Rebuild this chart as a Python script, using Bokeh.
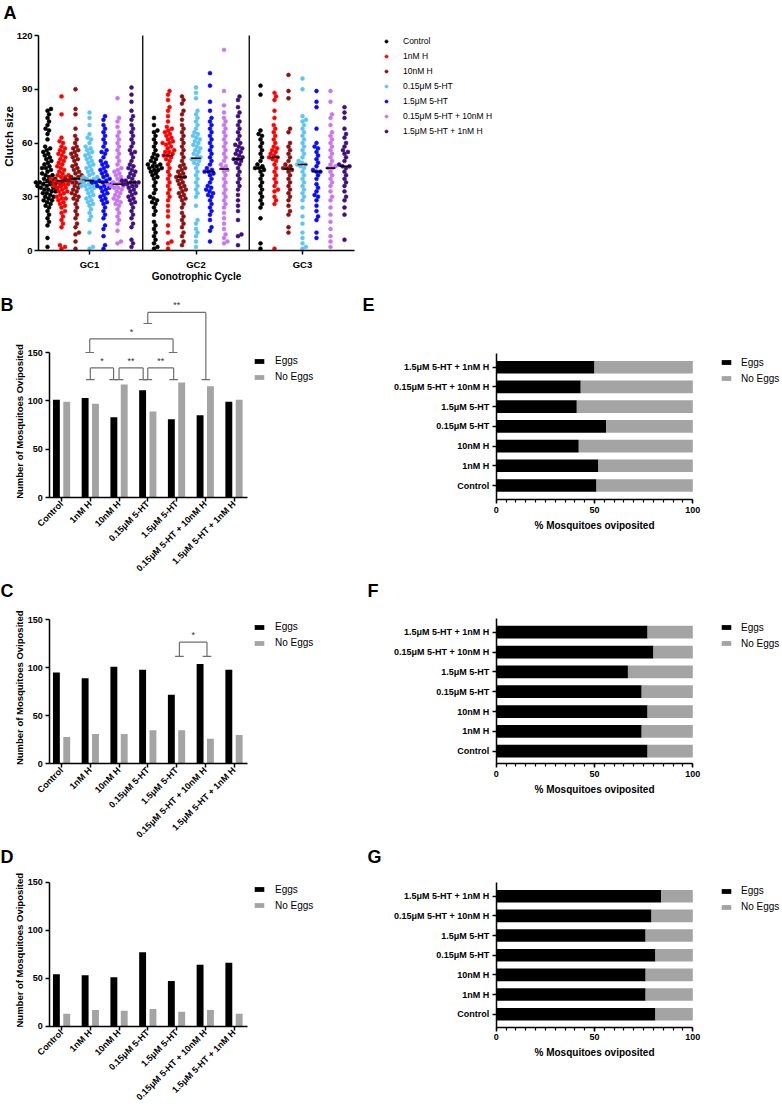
import math
from bokeh.plotting import figure
from bokeh.models import (ColumnDataSource, FixedTicker, Legend, LegendItem, Label,
                          SingleIntervalTicker, Range1d)
from bokeh.layouts import column, row
from bokeh.transform import dodge
from bokeh.embed import file_html
from bokeh.resources import INLINE
from bokeh.core.properties import value

FONT = "Liberation Sans"
GREY = "#a4a4a4"
BRACKET = "#6e6e6e"

# ---------------- data ----------------
TREATMENTS = ["Control", "1nM H", "10nM H", "0.15μM 5-HT", "1.5μM 5-HT",
              "0.15μM 5-HT + 10nM H", "1.5μM 5-HT + 1nM H"]
TREATMENT_COLORS = ["#000000", "#ff0000", "#8b1010", "#5ec4f4", "#0a0aff",
                    "#c876f2", "#3f0f80"]
CYCLES = ["GC1", "GC2", "GC3"]

GC1_CONTROL = [2, 7, 14, 16, 18, 20, 22, 24, 25, 26, 27, 28, 28, 29, 30, 30, 31, 32, 32, 33, 33, 34, 34,
               35, 35, 35, 36, 36, 36, 37, 37, 37, 38, 38, 38, 38, 39, 39, 40, 40, 41, 42, 42, 43, 44, 45,
               46, 46, 47, 48, 49, 50, 51, 52, 53, 54, 55, 56, 57, 58, 62, 65, 67, 68, 70, 72, 74, 76, 78, 79]
GC1_1NM_H = [1, 2, 3, 13, 15, 17, 19, 21, 22, 24, 25, 26, 27, 28, 29, 29, 30, 31, 32, 33, 33, 34, 35, 35,
             36, 36, 37, 37, 38, 38, 39, 39, 39, 40, 40, 41, 41, 42, 42, 43, 44, 45, 46, 47, 48, 49, 50, 51,
             52, 53, 54, 55, 56, 57, 58, 60, 61, 63, 76, 86]
GC1_10NM_H = [1, 5, 9, 10, 13, 15, 18, 20, 22, 24, 26, 28, 29, 30, 31, 32, 33, 34, 35, 36, 37, 38, 38, 39,
              39, 40, 40, 40, 41, 41, 42, 43, 44, 45, 46, 47, 48, 50, 51, 52, 53, 54, 55, 56, 57, 58, 60,
              62, 64, 68, 76, 79, 90]
GC1_015_HT = [1, 2, 10, 17, 19, 21, 23, 25, 26, 27, 28, 29, 30, 31, 32, 33, 34, 35, 35, 36, 36, 37, 37, 38,
              38, 39, 39, 39, 40, 40, 41, 41, 42, 43, 44, 45, 46, 47, 48, 49, 50, 51, 52, 53, 54, 55, 56,
              57, 58, 60, 62, 63, 65, 70, 74, 77]
GC1_15_HT = [1, 3, 8, 12, 14, 18, 20, 22, 24, 26, 27, 28, 29, 30, 31, 32, 33, 34, 35, 35, 36, 36, 37, 37,
             38, 38, 38, 39, 39, 40, 41, 42, 43, 44, 45, 46, 47, 48, 49, 50, 52, 54, 55, 56, 58, 60, 62, 64,
             66, 68, 70, 73, 75]
GC1_015_HT_10NM_H = [4, 5, 11, 15, 17, 19, 21, 23, 25, 26, 27, 28, 29, 30, 31, 32, 33, 34, 35, 35, 36, 36,
                     37, 37, 37, 38, 38, 39, 40, 41, 42, 43, 44, 45, 46, 48, 50, 52, 54, 56, 58, 60, 62, 64,
                     66, 69, 72, 74, 85]
GC1_15_HT_1NM_H = [2, 4, 6, 13, 15, 18, 20, 22, 24, 26, 27, 28, 29, 30, 31, 32, 33, 34, 35, 36, 36, 37, 37,
                   38, 38, 38, 39, 39, 40, 41, 42, 43, 44, 45, 46, 47, 48, 50, 52, 54, 55, 56, 58, 60, 62,
                   64, 66, 68, 70, 73, 75, 78, 83, 87, 91]

GC2_CONTROL = [1, 2, 4, 6, 8, 10, 12, 14, 16, 20, 22, 24, 26, 27, 28, 29, 30, 32, 34, 36, 38, 40, 41, 42,
               43, 44, 45, 45, 46, 46, 47, 47, 48, 48, 49, 50, 51, 52, 53, 54, 56, 58, 60, 62, 64, 66, 67,
               70, 74]
GC2_1NM_H = [1, 4, 5, 10, 14, 19, 22, 25, 28, 30, 32, 34, 36, 38, 40, 42, 44, 46, 48, 50, 51, 52, 53, 53,
             54, 55, 55, 56, 57, 58, 59, 60, 60, 61, 62, 63, 64, 65, 66, 67, 68, 69, 72, 75, 78, 80, 84, 87, 89]
GC2_10NM_H = [3, 5, 8, 10, 13, 15, 17, 19, 21, 24, 26, 28, 29, 30, 31, 32, 33, 34, 35, 36, 37, 38, 39, 40,
              41, 41, 42, 43, 44, 45, 46, 47, 48, 50, 52, 54, 56, 58, 60, 62, 64, 66, 68, 70, 73, 76, 78,
              82, 84, 86]
GC2_015_HT = [2, 5, 8, 10, 12, 15, 17, 25, 30, 32, 34, 36, 38, 40, 42, 44, 46, 48, 49, 50, 51, 51, 52, 53,
              54, 55, 56, 57, 58, 59, 60, 61, 62, 63, 64, 65, 66, 68, 70, 72, 74, 76, 78, 85, 88, 91]
GC2_15_HT = [5, 11, 13, 17, 20, 22, 24, 26, 28, 30, 31, 32, 33, 34, 35, 36, 38, 40, 42, 43, 44, 44, 45, 46,
             48, 50, 52, 54, 56, 58, 60, 62, 64, 66, 68, 70, 72, 74, 78, 83, 92, 99]
GC2_015_HT_10NM_H = [4, 5, 7, 9, 12, 15, 18, 21, 24, 26, 28, 30, 32, 34, 36, 38, 40, 42, 44, 45, 46, 47,
                     48, 50, 52, 54, 56, 58, 60, 62, 64, 66, 68, 70, 72, 74, 77, 81, 89, 112]
GC2_15_HT_1NM_H = [3, 8, 9, 17, 22, 25, 28, 31, 34, 36, 38, 40, 42, 44, 46, 48, 49, 50, 51, 51, 52, 53, 54,
                   55, 56, 57, 58, 59, 60, 62, 64, 66, 68, 70, 72, 75, 77, 80, 84, 86]

GC3_CONTROL = [1, 4, 18, 24, 26, 28, 30, 32, 34, 36, 38, 40, 42, 44, 45, 46, 46, 47, 48, 50, 52, 54, 56,
               58, 60, 62, 64, 65, 67, 87, 92]
GC3_1NM_H = [1, 26, 28, 30, 33, 34, 36, 38, 40, 42, 44, 46, 48, 50, 51, 52, 52, 53, 54, 55, 56, 57, 58, 60,
             62, 64, 66, 68, 70, 74, 78, 84, 86, 88]
GC3_10NM_H = [10, 13, 20, 22, 25, 28, 30, 32, 34, 36, 38, 40, 42, 44, 45, 46, 46, 47, 48, 50, 52, 54, 56,
              58, 60, 66, 68, 85, 89, 98]
GC3_015_HT = [1, 2, 4, 7, 10, 15, 19, 24, 28, 30, 32, 34, 36, 38, 40, 42, 44, 46, 47, 48, 48, 49, 50, 52,
              54, 56, 58, 60, 62, 64, 66, 68, 70, 72, 73, 75, 90, 96]
GC3_15_HT = [7, 10, 17, 19, 22, 25, 28, 30, 31, 33, 35, 37, 40, 42, 44, 44, 45, 47, 49, 51, 53, 55, 57, 58,
             60, 68, 80, 83, 89]
GC3_015_HT_10NM_H = [2, 5, 8, 12, 16, 20, 24, 28, 30, 33, 36, 38, 40, 42, 44, 46, 46, 47, 48, 50, 52, 54,
                     56, 58, 60, 62, 64, 66, 70, 74, 76, 83, 89]
GC3_15_HT_1NM_H = [6, 20, 24, 28, 30, 33, 36, 38, 40, 42, 44, 46, 47, 47, 48, 50, 52, 54, 55, 56, 58, 60,
                   63, 65, 68, 74, 77, 80]

GC1_MEDIANS = [38, 39, 40, 39, 38, 37, 38]
GC2_MEDIANS = [44, 53, 41, 51.5, 44, 45.5, 51]
GC3_MEDIANS = [46, 52, 45.5, 48, 44, 46, 47]

B_EGGS = [101, 103, 83, 111, 81, 85, 99]
B_NO_EGGS = [99, 97, 117, 89, 119, 115, 101]
C_EGGS = [95, 89, 101, 98, 72, 104, 98]
C_NO_EGGS = [28, 31, 31, 35, 35, 26, 30]
D_EGGS = [54, 53, 51, 77, 47, 64, 66]
D_NO_EGGS = [13, 17, 16, 18, 15, 17, 13]

E_EGGS_PCT = [51, 52, 42, 56, 41, 43, 50]
E_NO_EGGS_PCT = [49, 48, 58, 44, 59, 57, 50]
F_EGGS_PCT = [77, 74, 77, 74, 67, 80, 77]
F_NO_EGGS_PCT = [23, 26, 23, 26, 33, 20, 23]
G_EGGS_PCT = [81, 76, 76, 81, 76, 79, 84]
G_NO_EGGS_PCT = [19, 24, 24, 19, 24, 21, 16]

# comparisons: (group a, group b, leg shift a, leg shift b, bracket height, foot a, foot b, label)
B_COMPARISONS = [
    ("1nM H", "10nM H", 0.0, -0.19, 134, 122, 122, "*"),
    ("10nM H", "0.15μM 5-HT", 0.0, -0.16, 134, 122, 122, "**"),
    ("0.15μM 5-HT", "1.5μM 5-HT", 0.0, -0.1, 134, 122, 122, "**"),
    ("1nM H", "1.5μM 5-HT", -0.02, -0.12, 164, 150, 150, "*"),
    ("0.15μM 5-HT", "0.15μM 5-HT + 10nM H", 0.0, 0.02, 191.5, 180, 122, "**"),
]
C_COMPARISONS = [
    ("1.5μM 5-HT", "0.15μM 5-HT + 10nM H", 0.1, 0.06, 126.7, 112, 112, "*"),
]

CLUTCH = [
    [GC1_CONTROL, GC1_1NM_H, GC1_10NM_H, GC1_015_HT, GC1_15_HT, GC1_015_HT_10NM_H, GC1_15_HT_1NM_H],
    [GC2_CONTROL, GC2_1NM_H, GC2_10NM_H, GC2_015_HT, GC2_15_HT, GC2_015_HT_10NM_H, GC2_15_HT_1NM_H],
    [GC3_CONTROL, GC3_1NM_H, GC3_10NM_H, GC3_015_HT, GC3_15_HT, GC3_015_HT_10NM_H, GC3_15_HT_1NM_H],
]
MEDIANS = [GC1_MEDIANS, GC2_MEDIANS, GC3_MEDIANS]
CAT_X = list(range(len(TREATMENTS)))


# ---------------- helpers ----------------
class Panel:
    """A figure whose frame fills its whole canvas; page coords -> data via two reference points."""

    def __init__(self, cx0, cy0, w, h, xmap, ymap):
        dx0, X0, dx1, X1 = xmap
        dy0, Y0, dy1, Y1 = ymap
        self.sx = (X1 - X0) / (dx1 - dx0)
        self.sy = (Y0 - Y1) / (dy1 - dy0)
        self.cx0, self.cy0, self.w, self.h = cx0, cy0, w, h
        xs = dx0 - (X0 - cx0) / self.sx
        xe = dx0 + (cx0 + w - X0) / self.sx
        ys = dy0 - (cy0 + h - Y0) / self.sy
        ye = dy0 + (Y0 - cy0) / self.sy
        p = figure(width=w, height=h, x_range=Range1d(xs, xe), y_range=Range1d(ys, ye),
                   title=None, output_backend="svg", toolbar_location=None,
                   min_border_left=0, min_border_right=0, min_border_top=0, min_border_bottom=0)
        p.xgrid.visible = False
        p.ygrid.visible = False
        p.outline_line_color = None
        p.background_fill_color = "white"
        p.border_fill_color = "white"
        self.p = p
        self.X0, self.dx0, self.Y0, self.dy0 = X0, dx0, Y0, dy0

    def dx(self, X):
        return self.dx0 + (X - self.X0) / self.sx

    def dy(self, Y):
        return self.dy0 + (self.Y0 - Y) / self.sy

    def label(self, X, Y, text, size, bold=True, angle=0.0, align="left", baseline="top"):
        self.p.add_layout(Label(x=X - self.cx0, y=self.cy0 + self.h - Y, x_units="screen",
                                y_units="screen", text=text, angle=angle, text_align=align,
                                text_baseline=baseline, text_font=FONT, text_font_size=size,
                                text_font_style="bold" if bold else "normal", text_color="black"))

    def legend(self, items, left_X, bottom_Y, glyph_w, glyph_h, label_h, spacing, standoff, size):
        lg = Legend(items=items, location=(left_X - self.cx0, self.cy0 + self.h - bottom_Y),
                    padding=0, margin=0, spacing=spacing,
                    glyph_width=glyph_w, glyph_height=glyph_h, label_height=label_h,
                    label_standoff=standoff, border_line_color=None, background_fill_alpha=0,
                    label_text_font=FONT, label_text_font_size=size, label_text_color="black")
        self.p.add_layout(lg)


def style_axis(ax, size="9px", standoff=3):
    ax.axis_line_width = 1.5
    ax.axis_line_color = "black"
    ax.major_tick_line_width = 1.5
    ax.major_tick_line_color = "black"
    ax.major_tick_out = 4
    ax.major_tick_in = 0
    ax.minor_tick_line_color = None
    ax.major_label_text_font = FONT
    ax.major_label_text_font_size = size
    ax.major_label_text_font_style = "bold"
    ax.major_label_text_color = "black"
    ax.major_label_standoff = standoff


def swarm(vals, d, ypx):
    placed = []
    xs = [0.0] * len(vals)
    order = sorted(range(len(vals)), key=lambda i: vals[i])
    for i in order:
        y = vals[i] * ypx
        near = [(px, py) for px, py in placed if abs(py - y) < d]
        cands = [0.0]
        for px, py in near:
            ddx = math.sqrt(d * d - (py - y) ** 2)
            cands += [px + ddx, px - ddx]
        cands.sort(key=abs)
        for c in cands:
            if all((c - px) ** 2 + (y - py) ** 2 >= d * d - 1e-6 for px, py in near):
                xs[i] = c
                placed.append((c, y))
                break
    return xs


# ---------------- panel A ----------------
A = Panel(0, 0, 782, 290, (0, 89.0, 2, 302.0), (0, 250, 120, 35))
pA = A.p
COL_STEP = 14.0 / A.sx
a_items = []
for k, (name, colr) in enumerate(zip(TREATMENTS, TREATMENT_COLORS)):
    xs, ys = [], []
    for g in range(len(CYCLES)):
        vals = CLUTCH[g][k]
        offs = swarm(vals, 3.9, A.sy)
        xs += [g + (k - 3) * COL_STEP + o / A.sx for o in offs]
        ys += list(vals)
    r = pA.scatter(x=xs, y=ys, size=3.9, marker="circle", fill_color=colr, line_color=colr,
                   line_width=0.6)
    a_items.append(LegendItem(label=name, renderers=[r]))

mx0, mx1, my = [], [], []
for g in range(len(CYCLES)):
    for k in range(len(TREATMENTS)):
        c = g + (k - 3) * COL_STEP
        mx0.append(c - 0.045)
        mx1.append(c + 0.045)
        my.append(MEDIANS[g][k])
pA.segment(x0=mx0, y0=my, x1=mx1, y1=my, line_color="black", line_width=1.6)
sep = [g - 0.5 for g in range(1, len(CYCLES))]
pA.segment(x0=sep, y0=[0] * len(sep), x1=sep, y1=[120] * len(sep), line_color="black", line_width=1.3)

A_X_BOUNDS = (A.dx(38), A.dx(354))
style_axis(pA.xaxis[0], "9.5px", 4)
style_axis(pA.yaxis[0], "9.5px", 2)
pA.xaxis.ticker = FixedTicker(ticks=list(range(len(CYCLES))))
pA.xaxis.major_label_overrides = {i: c for i, c in enumerate(CYCLES)}
pA.xaxis.fixed_location = 0
pA.xaxis.bounds = A_X_BOUNDS
pA.yaxis.ticker = FixedTicker(ticks=[0, 30, 60, 90, 120])
pA.yaxis.fixed_location = A_X_BOUNDS[0]
pA.yaxis.bounds = (0, 120)
A.legend(a_items, 382, 136, 8, 10, 10, 5, 13, "8.5px")
A.label(3, 2, "A", "18px")
A.label(8, 136, "Clutch size", "11.5px", angle=math.pi / 2, align="center", baseline="middle")
A.label(196, 276, "Gonotrophic Cycle", "10px", align="center", baseline="middle")


# ---------------- count panels (B, C, D) ----------------
def bracket_data(comps):
    x0, y0, x1, y1, tx, ty, tt = [], [], [], [], [], [], []
    cap = 0.15
    for ga, gb, da, db, top, fa, fb, lab in comps:
        xa = TREATMENTS.index(ga) + da
        xb = TREATMENTS.index(gb) + db
        x0 += [xa, xa, xb, xa - cap, xb - cap]
        x1 += [xb, xa, xb, xa + cap, xb + cap]
        y0 += [top, top, top, fa, fb]
        y1 += [top, fa, fb, fa, fb]
        tx.append((xa + xb) / 2.0)
        ty.append(top + 2)
        tt.append(lab)
    return dict(x0=x0, y0=y0, x1=x1, y1=y1), dict(x=tx, y=ty, t=tt)


def count_panel(eggs, no_eggs, comps, cy0, h, y0_page, y150_page, letter, letter_Y, legend_bottom):
    P = Panel(0, cy0, 358, h, (0, 61.07, 6, 233.5), (0, y0_page, 150, y150_page))
    p = P.p
    src = ColumnDataSource(dict(x=CAT_X, eggs=eggs, no=no_eggs))
    r1 = p.vbar(x=dodge("x", -0.18, range=p.x_range), top="eggs", width=0.24, source=src,
                fill_color="black", line_color=None)
    r2 = p.vbar(x=dodge("x", 0.18, range=p.x_range), top="no", width=0.24, source=src,
                fill_color=GREY, line_color=None)
    if comps:
        seg, txt = bracket_data(comps)
        p.segment(x0="x0", y0="y0", x1="x1", y1="y1", source=ColumnDataSource(seg),
                  line_color=BRACKET, line_width=1.2)
        p.text(x="x", y="y", text="t", source=ColumnDataSource(txt), text_font=value(FONT),
               text_font_size=value("9px"), text_align="center", text_baseline="bottom",
               text_color="#333333")
    xb = (P.dx(49.3), P.dx(247))
    style_axis(p.xaxis[0], "9px", 1)
    style_axis(p.yaxis[0], "9px", 3)
    p.xaxis.ticker = FixedTicker(ticks=CAT_X)
    p.xaxis.major_label_overrides = {i: t for i, t in enumerate(TREATMENTS)}
    p.xaxis.major_label_orientation = math.pi / 4
    p.xaxis.fixed_location = 0
    p.xaxis.bounds = xb
    p.yaxis.ticker = FixedTicker(ticks=[0, 50, 100, 150])
    p.yaxis.fixed_location = xb[0]
    p.yaxis.bounds = (0, 150)
    P.legend([LegendItem(label="Eggs", renderers=[r1]),
              LegendItem(label="No Eggs", renderers=[r2])],
             253, legend_bottom, 12, 6, 12, 4, 10, "10px")
    P.label(0, letter_Y, letter, "18px")
    P.label(19, y0_page - 76, "Number of Mosquitoes Oviposited", "9.5px",
            angle=math.pi / 2, align="center", baseline="middle")
    return p


pB = count_panel(B_EGGS, B_NO_EGGS, B_COMPARISONS, 290, 288, 497, 352, "B", 294, 382.7)
pC = count_panel(C_EGGS, C_NO_EGGS, C_COMPARISONS, 578, 265, 763.3, 619.3, "C", 580, 648.7)
pD = count_panel(D_EGGS, D_NO_EGGS, None, 843, 266, 1025.7, 881.7, "D", 846, 911.3)


# ---------------- percentage panels (E, F, G) ----------------
def pct_panel(eggs, no_eggs, cy0, h, ctrl_Y, top_Y, ax_bottom_Y, ax_top_Y, letter, letter_X, letter_Y,
              legend_bottom, xlabel_Y):
    P = Panel(358, cy0, 424, h, (0, 495.7, 100, 692.3), (0, ctrl_Y, 6, top_Y))
    p = P.p
    src = ColumnDataSource(dict(y=CAT_X, eggs=eggs, no=no_eggs))
    rs = p.hbar_stack(["eggs", "no"], y="y", height=0.64, source=src,
                      fill_color=["black", GREY], line_color=None)
    yb = (P.dy(ax_bottom_Y), P.dy(ax_top_Y))
    style_axis(p.xaxis[0], "9px", 3)
    style_axis(p.yaxis[0], "9px", 3)
    p.yaxis.ticker = FixedTicker(ticks=CAT_X)
    p.yaxis.major_label_overrides = {i: t for i, t in enumerate(TREATMENTS)}
    p.yaxis.fixed_location = 0
    p.yaxis.bounds = yb
    p.xaxis.ticker = SingleIntervalTicker(interval=50, num_minor_ticks=10)
    p.xaxis.minor_tick_line_color = "black"
    p.xaxis.minor_tick_line_width = 1.2
    p.xaxis.minor_tick_out = 3
    p.xaxis.minor_tick_in = 0
    p.xaxis.fixed_location = yb[0]
    p.xaxis.bounds = (0, 100)
    P.legend([LegendItem(label="Eggs", renderers=[rs[0]]),
              LegendItem(label="No Eggs", renderers=[rs[1]])],
             720, legend_bottom, 12, 6, 12, 4, 9, "10px")
    P.label(letter_X, letter_Y, letter, "18px")
    P.label(594, xlabel_Y, "% Mosquitoes oviposited", "10px", align="center", baseline="middle")
    return p


pE = pct_panel(E_EGGS_PCT, E_NO_EGGS_PCT, 290, 288, 485, 366.7, 499.3, 353.3, "E", 362, 294, 384, 525)
pF = pct_panel(F_EGGS_PCT, F_NO_EGGS_PCT, 578, 265, 750.7, 631.7, 763.3, 618.3, "F", 367, 580, 649.3, 789)
pG = pct_panel(G_EGGS_PCT, G_NO_EGGS_PCT, 843, 266, 1013.7, 895.7, 1026.7, 881.7, "G", 367, 846, 912.7, 1052)

layout = column(pA, row(pB, pE), row(pC, pF), row(pD, pG))
open("out.html", "w").write(file_html(layout, INLINE))
